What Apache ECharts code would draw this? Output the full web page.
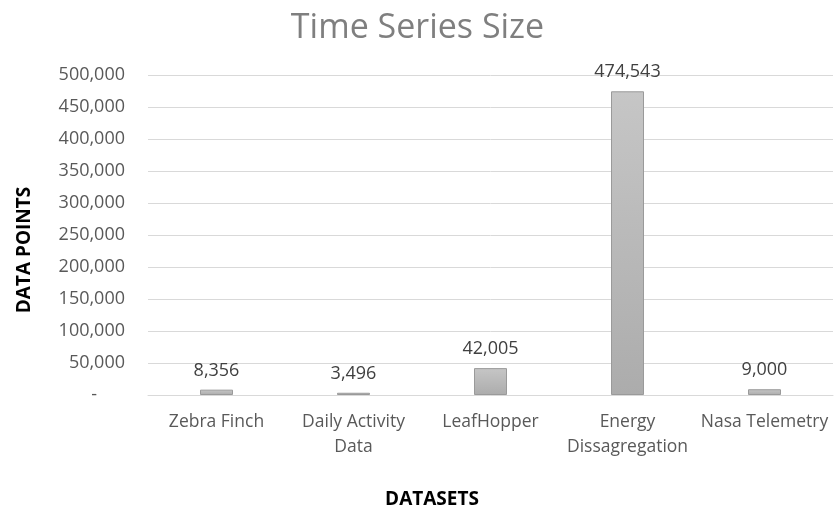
<!DOCTYPE html>
<html>
<head>
<meta charset="utf-8">
<script src="https://cdn.jsdelivr.net/npm/echarts@6/dist/echarts.min.js"></script>
<style>
  html, body { margin: 0; padding: 0; background: #fff; }
  #chart { width: 835px; height: 510px; }
</style>
</head>
<body>
<div id="chart"></div>
<script>
// Dataset names and their time-series lengths
const categories = ['Zebra Finch', 'Daily Activity\nData', 'LeafHopper', 'Energy\nDissagregation', 'Nasa Telemetry'];
const dataPoints = [8356, 3496, 42005, 474543, 9000];

const font = '"Open Sans", "Noto Sans", sans-serif';

const chart = echarts.init(document.getElementById('chart'));
chart.setOption({
  animation: false,
  title: {
    text: 'Time Series Size',
    left: 'center',
    top: 6,
    textStyle: { fontFamily: font, fontSize: 34, fontWeight: 'normal', color: '#7f7f7f' }
  },
  grid: { left: 148, right: 2, top: 75, bottom: 115 },
  // Axis titles, placed over the whole chart area
  graphic: [
    {
      type: 'text',
      x: 432, y: 500,
      style: {
        text: 'DATASETS', fontFamily: font, fontSize: 19, fontWeight: 'bold',
        fill: '#000', align: 'center', verticalAlign: 'middle'
      }
    },
    {
      type: 'text',
      x: 25, y: 250,
      rotation: Math.PI / 2,
      style: {
        text: 'DATA POINTS', fontFamily: font, fontSize: 19, fontWeight: 'bold',
        fill: '#000', align: 'center', verticalAlign: 'middle'
      }
    }
  ],
  xAxis: {
    type: 'category',
    data: categories,
    axisLine: { lineStyle: { color: '#d9d9d9', width: 1 } },
    axisTick: { show: false },
    axisLabel: { fontFamily: font, fontSize: 17.5, color: '#595959', lineHeight: 25, margin: 15, interval: 0 }
  },
  yAxis: {
    type: 'value',
    min: 0,
    max: 500000,
    interval: 50000,
    axisLine: { show: false },
    axisTick: { show: false },
    splitLine: { lineStyle: { color: '#d9d9d9', width: 1 } },
    axisLabel: {
      fontFamily: font, fontSize: 18, color: '#595959', margin: 23,
      formatter: v => v === 0 ? '-      ' : v.toLocaleString('en-US')
    }
  },
  series: [{
    type: 'bar',
    data: dataPoints,
    barWidth: 33,
    itemStyle: {
      color: new echarts.graphic.LinearGradient(0, 0, 0, 1, [
        { offset: 0, color: '#c6c6c6' },
        { offset: 1, color: '#acacac' }
      ]),
      borderColor: '#9a9a9a',
      borderWidth: 1
    },
    label: {
      show: true,
      position: 'top',
      distance: 10,
      fontFamily: font,
      fontSize: 18,
      color: '#404040',
      formatter: p => p.value.toLocaleString('en-US')
    }
  }]
});
</script>
</body>
</html>
